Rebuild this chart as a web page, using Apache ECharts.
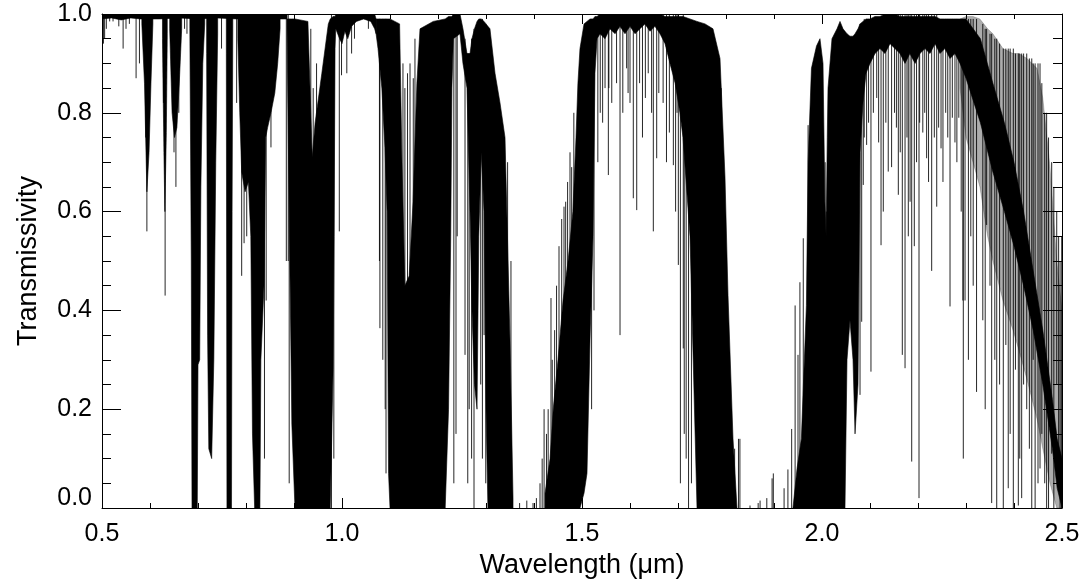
<!DOCTYPE html>
<html>
<head>
<meta charset="utf-8">
<title>Atmospheric transmissivity</title>
<script src="https://cdn.jsdelivr.net/npm/echarts@6/dist/echarts.min.js"></script>
<style>
  html, body { margin: 0; padding: 0; background: #fff; }
  #chart { width: 1087px; height: 581px; }
</style>
</head>
<body>
<div id="chart"></div>
<script>
// Axis ticks
const xTicks = [0.5, 1.0, 1.5, 2.0, 2.5];
const yTicks = [0.0, 0.2, 0.4, 0.6, 0.8, 1.0];

// Dense absorption regions: [wavelength µm, upper transmissivity, lower transmissivity]
const strip05 = [[0.5,1,0.99],[0.52,1,0.992],[0.54,1,0.988],[0.56,1,0.992],[0.58,1,0.99],[0.62,1,0.99],[0.66,1,0.992],[0.7,1,0.99],[0.74,1,0.992],[0.78,1,0.99],[0.82,1,0.99],[0.86,1,0.99],[0.8855,1,0.99]];
const b059 = [[0.583,1,0.98],[0.5885,1,0.86],[0.5935,1,0.64],[0.598,1,0.72],[0.602,1,0.86],[0.606,1,0.98]];
const b063 = [[0.626,1,0.95],[0.629,1,0.72],[0.631,1,0.6],[0.634,1,0.76],[0.636,1,0.96]];
const b065 = [[0.641,1,0.97],[0.646,1,0.8],[0.651,1,0.75],[0.656,1,0.77],[0.661,1,0.86],[0.666,1,0.97]];
const b069 = [[0.683,1,0.97],[0.686,1,0.5],[0.6875,1,0],[0.6985,1,0],[0.7,1,0.29],[0.7035,1,0.3],[0.706,1,0.65],[0.71,1,0.9],[0.714,1,0.98]];
const b072 = [[0.718,1,0.92],[0.72,1,0.35],[0.7225,1,0.12],[0.7285,1,0.1],[0.733,1,0.3],[0.737,1,0.7],[0.741,1,0.96]];
const b076 = [[0.759,1,0.92],[0.7603,1,0],[0.7698,1,0],[0.771,1,0.6],[0.7725,1,0.97]];
const b082 = [[0.783,1,0.95],[0.787,1,0.8],[0.791,1,0.68],[0.798,1,0.64],[0.805,1,0.66],[0.81,1,0.55],[0.8135,1,0.15],[0.818,1,0],[0.829,1,0],[0.831,1,0.3],[0.8375,1,0.45],[0.841,1,0.75],[0.845,1,0.77],[0.852,1,0.8],[0.86,1,0.84],[0.866,1,0.9],[0.871,1,0.97]];
const b094 = [[0.8855,0.99,0.97],[0.887,0.99,0.84],[0.8955,0.99,0.17],[0.902,0.99,0],[0.929,0.985,0],[0.938,0.71,0],[0.944,0.78,0],[0.958,0.88,0],[0.9715,0.98,0],[0.9755,0.99,0],[0.9815,0.995,0.28],[0.9835,0.995,0.55],[0.9855,0.995,0.93],[0.987,1,0.97],[0.995,1,0.95],[1.0,1,0.94],[1.006,1,0.965],[1.012,1,0.95],[1.02,1,0.975],[1.03,1,0.985],[1.045,1,0.99],[1.06,1,0.985],[1.068,1,0.97],[1.071,0.99,0.96]];
const b113 = [[1.071,0.99,0.96],[1.075,0.99,0.93],[1.083,0.99,0.85],[1.0895,0.99,0.73],[1.094,0.99,0.6],[1.097,0.99,0.07],[1.1,0.99,0],[1.12,0.98,0],[1.125,0.7,0],[1.131,0.45,0],[1.14,0.47,0],[1.148,0.62,0],[1.156,0.86,0],[1.1625,0.97,0],[1.19,0.985,0],[1.215,0.99,0],[1.222,0.995,0.2],[1.2265,0.995,0.55],[1.229,0.995,0.85],[1.232,1,0.95],[1.2458,1,0.96],[1.252,0.97,0.9],[1.2604,0.92,0.85],[1.2667,0.92,0.6],[1.2708,0.95,0.4],[1.276,0.97,0.25],[1.2813,0.985,0.2],[1.285,0.99,0.55],[1.29,0.99,0.72],[1.296,0.985,0.6],[1.3,0.98,0.2],[1.304,0.975,0],[1.3083,0.97,0],[1.3188,0.88,0],[1.3292,0.82,0],[1.3396,0.75,0],[1.35,0.34,0],[1.3563,0.02,0]];
const win16 = [[1.423,0.03,0],[1.4335,0.1,0],[1.44,0.2,0],[1.45,0.3,0],[1.4605,0.42,0],[1.471,0.5,0],[1.481,0.6,0],[1.4875,0.75,0],[1.4915,0.86,0],[1.4958,0.93,0],[1.5042,0.98,0.03],[1.5104,0.985,0.07],[1.5167,0.99,0.34],[1.523,0.99,0.55],[1.527,0.995,0.88],[1.5313,0.995,0.95],[1.5375,1,0.96],[1.548,1,0.95],[1.558,1,0.97],[1.569,1,0.96],[1.579,1,0.975],[1.5896,1,0.96],[1.6,1,0.975],[1.6104,1,0.96],[1.6208,1,0.97],[1.631,1,0.98],[1.6417,1,0.965],[1.652,1,0.975],[1.6625,1,0.96],[1.673,0.995,0.94],[1.6833,0.995,0.9],[1.694,0.995,0.86],[1.704,0.995,0.8],[1.7104,0.995,0.75],[1.725,0.99,0.55],[1.7396,0.985,0],[1.7563,0.98,0],[1.7729,0.97,0],[1.7875,0.91,0],[1.7979,0.67,0],[1.8042,0.43,0],[1.8146,0.14,0],[1.8229,0,0]];
const b200 = [[1.9395,0,0],[1.948,0.08,0],[1.957,0.14,0],[1.9675,0.41,0],[1.971,0.7,0],[1.978,0.89,0],[1.9885,0.935,0],[1.9958,0.95,0],[2.0021,0.9,0],[2.006,0.62,0],[2.0085,0.55,0],[2.011,0.75,0],[2.0125,0.85,0],[2.0208,0.95,0],[2.0313,0.97,0],[2.0375,0.985,0],[2.0438,0.97,0],[2.0479,0.965,0],[2.0521,0.96,0.3],[2.0583,0.955,0.38],[2.0646,0.955,0.3],[2.0688,0.96,0.15],[2.075,0.97,0.25],[2.0792,0.98,0.72],[2.0854,0.985,0.82],[2.0917,0.99,0.88],[2.1,0.99,0.9],[2.1104,0.995,0.92],[2.1208,0.995,0.93],[2.1313,1,0.92],[2.1417,1,0.94],[2.152,1,0.93],[2.1625,0.995,0.92],[2.173,0.995,0.9],[2.183,0.995,0.92],[2.194,0.995,0.9],[2.204,0.995,0.92],[2.2146,0.995,0.93],[2.225,0.995,0.92],[2.2354,0.995,0.94],[2.2458,0.99,0.92],[2.256,0.99,0.93],[2.2667,0.99,0.91],[2.277,0.99,0.92],[2.2875,0.99,0.9],[2.3,0.99,0.87],[2.33,0.95,0.78],[2.356,0.86,0.68],[2.38,0.78,0.6],[2.4,0.7,0.53],[2.42,0.6,0.45],[2.44,0.48,0.36],[2.46,0.36,0.25],[2.48,0.22,0.12],[2.49,0.14,0.04],[2.5,0.1,0]];
// Partly resolved line forest on the long-wave side
const haze23 = [[2.2875,0.99,0.85],[2.3,0.995,0.75],[2.3146,0.995,0.7],[2.329,0.99,0.65],[2.345,0.97,0.55],[2.356,0.96,0.5],[2.377,0.93,0.42],[2.398,0.92,0.36],[2.41,0.92,0.32],[2.427,0.91,0.26],[2.448,0.89,0.18],[2.46,0.83,0.12],[2.475,0.69,0.05],[2.489,0.5,0],[2.5,0.4,0]];

// Isolated absorption lines: [wavelength µm, upper, lower]
const linesVis = [[0.503,1,0.94],[0.5055,1,0.95],[0.509,1,0.97],[0.516,1,0.985],[0.523,1,0.985],[0.535,1,0.975],[0.544,1,0.93],[0.55,1,0.97],[0.557,1,0.98],[0.571,1,0.87],[0.578,1,0.9],[0.591,1,0.75],[0.5935,1,0.56],[0.628,1,0.82],[0.6315,1,0.43],[0.65,1,0.72],[0.654,1,0.65],[0.66,1,0.8],[0.672,1,0.97],[0.677,1,0.96],[0.749,1,0.93],[0.7805,1,0.82],[0.791,1,0.47],[0.796,1,0.536],[0.8015,1,0.55],[0.8385,1,0.1],[0.842,1,0.42],[0.852,1,0.73],[0.884,1,0.5],[0.888,1,0.5],[0.89,0.99,0.05],[0.935,0.97,0.6],[0.94,0.85,0.6],[0.947,0.9,0.7],[0.978,1,0],[0.983,0.995,0.1],[0.9944,1,0.56],[0.999,1,0.876],[1.01,1,0.88],[1.02,1,0.92],[1.026,1,0.95],[1.055,1,0.97],[1.078,0.99,0.5],[1.079,0.99,0.364],[1.085,0.99,0.3],[1.09,0.99,0.2],[1.0917,0.99,0.07]];
const linesNir = [[1.127,0.9,0.3],[1.131,0.85,0.2],[1.1365,0.88,0.3],[1.1417,0.9,0.25],[1.1485,0.87,0.4],[1.152,0.95,0.5],[1.233,1,0.05],[1.2375,1,0.15],[1.24,1,0.55],[1.2563,0.95,0.31],[1.262,0.92,0.05],[1.265,0.92,0.2],[1.27,0.95,0.1],[1.275,0.97,0],[1.289,0.99,0.25],[1.2925,0.99,0.1],[1.296,0.98,0.35],[1.2995,0.98,0.05],[1.345,0.7,0.05],[1.352,0.5,0],[1.37,0.01,0],[1.385,0.015,0],[1.398,0.01,0],[1.405,0.02,0],[1.4125,0.05,0],[1.417,0.1,0],[1.421,0.2,0],[1.426,0.15,0],[1.4295,0.2,0],[1.4354,0.425,0],[1.438,0.3,0],[1.443,0.36,0],[1.447,0.45,0],[1.4521,0.53,0],[1.4577,0.585,0],[1.4625,0.61,0],[1.466,0.62,0],[1.47,0.66,0],[1.475,0.72,0],[1.4785,0.69,0],[1.483,0.8,0]];
const linesSwir = [[1.52,0.99,0.2],[1.525,0.99,0.4],[1.533,0.99,0.7],[1.538,0.99,0.8],[1.543,1,0.78],[1.548,1,0.85],[1.5549,1,0.674],[1.556,1,0.85],[1.562,1,0.82],[1.572,1,0.86],[1.5792,1,0.35],[1.585,1,0.8],[1.593,1,0.89],[1.596,1,0.84],[1.6,1,0.82],[1.6069,1,0.627],[1.614,1,0.603],[1.62,1,0.86],[1.626,1,0.75],[1.632,1,0.83],[1.638,1,0.88],[1.645,1,0.8],[1.6486,1,0.56],[1.6556,1,0.708],[1.66,1,0.84],[1.669,1,0.82],[1.676,1,0.7],[1.682,1,0.76],[1.6903,1,0.694],[1.695,1,0.6],[1.698,1,0.8],[1.7007,1,0.492],[1.705,0.99,0.05],[1.711,1,0.323],[1.713,0.99,0.15],[1.717,0.8,0.1],[1.722,0.7,0],[1.728,0.6,0.05],[1.79,0.85,0],[1.795,0.6,0],[1.806,0.3,0],[1.818,0.12,0],[1.826,0.14,0],[1.829,0.14,0],[1.85,0.005,0],[1.867,0.01,0],[1.871,0.015,0],[1.885,0.02,0],[1.896,0.06,0],[1.8986,0.07,0],[1.921,0.04,0],[1.929,0.078,0],[1.9368,0.16,0],[1.944,0.41,0],[1.95,0.31,0],[1.954,0.457,0],[1.961,0.546,0],[1.971,0.775,0],[2.0065,0.7,0.1],[2.009,0.6,0.05],[2.0792,0.98,0.229],[2.0827,0.98,0.377],[2.086,0.98,0.654],[2.088,0.99,0.75],[2.093,0.99,0.735],[2.097,0.99,0.78],[2.102,0.99,0.276],[2.107,0.99,0.8],[2.114,0.99,0.83],[2.118,0.99,0.74],[2.123,0.99,0.532],[2.1277,0.99,0.6],[2.133,1,0.78],[2.138,1,0.681],[2.145,1,0.69],[2.151,1,0.8],[2.155,1,0.77],[2.159,1,0.634],[2.163,1,0.72],[2.1673,1,0.31],[2.173,1,0.283],[2.177,1,0.75],[2.1798,1,0.55],[2.1835,1,0.62],[2.1869,1,0.094],[2.1923,1,0.53],[2.197,1,0.7],[2.2021,1,0.02],[2.2035,1,0.78],[2.21,1,0.76],[2.214,1,0.8],[2.218,1,0.708],[2.222,1,0.66],[2.2285,1,0.48],[2.234,1,0.75],[2.239,1,0.61],[2.243,0.99,0.77],[2.248,0.99,0.728],[2.252,0.99,0.66],[2.2577,0.99,0.8],[2.262,0.99,0.75],[2.2667,0.99,0.408],[2.2715,0.99,0.79],[2.277,0.99,0.74],[2.281,0.99,0.7],[2.285,0.98,0.79],[2.29,0.99,0.6],[2.2935,0.99,0.42],[2.2944,0.99,0.1],[2.298,0.99,0.42],[2.305,0.99,0.3],[2.31,0.99,0.55],[2.315,0.99,0.45],[2.322,0.99,0.235],[2.335,0.98,0.38],[2.34,0.97,0.2],[2.343,0.97,0.573],[2.35,0.96,0.45],[2.3535,0.96,0.01],[2.36,0.95,0.3],[2.364,0.95,0],[2.37,0.94,0.25],[2.3777,0.93,0],[2.383,0.93,0.33],[2.388,0.93,0.04],[2.392,0.93,0.15],[2.3986,0.93,0],[2.403,0.92,0.28],[2.409,0.92,0.005],[2.412,0.92,0.1],[2.416,0.92,0.02],[2.42,0.92,0.25],[2.4265,0.92,0.2],[2.432,0.91,0.12],[2.437,0.91,0],[2.44,0.9,0.3],[2.444,0.9,0],[2.45,0.9,0.05],[2.4542,0.9,0.08],[2.458,0.86,0.15],[2.464,0.8,0.05],[2.468,0.8,0],[2.472,0.75,0],[2.4785,0.7,0.11],[2.483,0.65,0],[2.489,0.6,0.25],[2.493,0.55,0.05],[2.496,0.5,0],[2.4994,0.55,0]];

const solidBands = [strip05, b059, b063, b065, b069, b072, b076, b082, b094, b113, win16, b200];
const hazeBands = [haze23];
const absorptionLines = linesVis.concat(linesNir, linesSwir);

const FONT = '"Liberation Sans", Arial, Helvetica, sans-serif';

// Filled polygon between the upper and lower envelope of one band
function bandRenderer(bands, fill) {
  return function (params, api) {
    const band = bands[api.value(2)];
    const upper = band.map(p => api.coord([p[0], p[1]]));
    const lower = band.slice().reverse().map(p => api.coord([p[0], p[2]]));
    return {
      type: 'polygon',
      shape: { points: upper.concat(lower) },
      style: { fill: fill, stroke: fill, lineWidth: 0.6 }
    };
  };
}

function lineRenderer(params, api) {
  const w = api.value(0);
  const p1 = api.coord([w, api.value(1)]);
  const p2 = api.coord([w, api.value(2)]);
  return {
    type: 'line',
    shape: { x1: p1[0], y1: p1[1], x2: p2[0], y2: p2[1] },
    style: { stroke: '#000', lineWidth: 1, opacity: 0.85 }
  };
}

const tickStep = (xTicks[1] - xTicks[0]);
const yStep = (yTicks[1] - yTicks[0]);

function xAxisDef(pos, showText) {
  return {
    type: 'value', position: pos, gridIndex: 0,
    min: xTicks[0], max: xTicks[xTicks.length - 1], interval: tickStep,
    axisLine: { show: true, onZero: false, lineStyle: { color: '#000', width: 1 } },
    axisTick: { show: true, inside: true, length: 10, lineStyle: { color: '#000' } },
    minorTick: { show: true, splitNumber: 5, length: 5, lineStyle: { color: '#000' } },
    splitLine: { show: false }, minorSplitLine: { show: false },
    axisLabel: {
      show: showText, color: '#000', fontSize: 25, fontFamily: FONT, margin: 14,
      formatter: v => v.toFixed(1)
    },
    name: showText ? 'Wavelength (\u03bcm)' : '',
    nameLocation: 'middle', nameGap: 36,
    nameTextStyle: { color: '#000', fontSize: 27, fontFamily: FONT }
  };
}

function yAxisDef(pos, showText) {
  return {
    type: 'value', position: pos, gridIndex: 0,
    min: yTicks[0], max: yTicks[yTicks.length - 1], interval: yStep,
    axisLine: { show: true, onZero: false, lineStyle: { color: '#000', width: 1 } },
    axisTick: { show: true, inside: true, length: 19, lineStyle: { color: '#000' } },
    minorTick: { show: true, splitNumber: 4, length: 9, lineStyle: { color: '#000' } },
    splitLine: { show: false }, minorSplitLine: { show: false },
    axisLabel: {
      show: showText, color: '#000', fontSize: 25, fontFamily: FONT, margin: 10,
      formatter: v => (v === 0 ? '{lo|0.0}' : v.toFixed(1)),
      rich: { lo: { color: '#000', fontSize: 25, fontFamily: FONT, padding: [0, 0, 20, 0] } }
    },
    name: showText ? 'Transmissivity' : '',
    nameLocation: 'middle', nameGap: 60, nameRotate: 90,
    nameTextStyle: { color: '#000', fontSize: 27, fontFamily: FONT }
  };
}

const chart = echarts.init(document.getElementById('chart'), null, { renderer: 'canvas' });
chart.setOption({
  animation: false,
  backgroundColor: '#fff',
  grid: { left: 102, right: 25, top: 14, bottom: 73, containLabel: false, outerBoundsMode: 'none' },
  xAxis: [xAxisDef('bottom', true), xAxisDef('top', false)],
  yAxis: [yAxisDef('left', true), yAxisDef('right', false)],
  series: [
    {
      type: 'custom', name: 'haze', xAxisIndex: 0, yAxisIndex: 0, clip: true,
      renderItem: bandRenderer(hazeBands, 'rgba(0,0,0,0.32)'),
      encode: { x: [0, 1], y: [3, 4] },
      data: hazeBands.map((b, i) => [b[0][0], b[b.length - 1][0], i, 0, 1])
    },
    {
      type: 'custom', name: 'bands', xAxisIndex: 0, yAxisIndex: 0, clip: true,
      renderItem: bandRenderer(solidBands, '#000'),
      encode: { x: [0, 1], y: [3, 4] },
      data: solidBands.map((b, i) => [b[0][0], b[b.length - 1][0], i, 0, 1])
    },
    {
      type: 'custom', name: 'lines', xAxisIndex: 0, yAxisIndex: 0, clip: true,
      renderItem: lineRenderer,
      encode: { x: 0, y: [1, 2] },
      data: absorptionLines
    }
  ]
});
</script>
</body>
</html>
